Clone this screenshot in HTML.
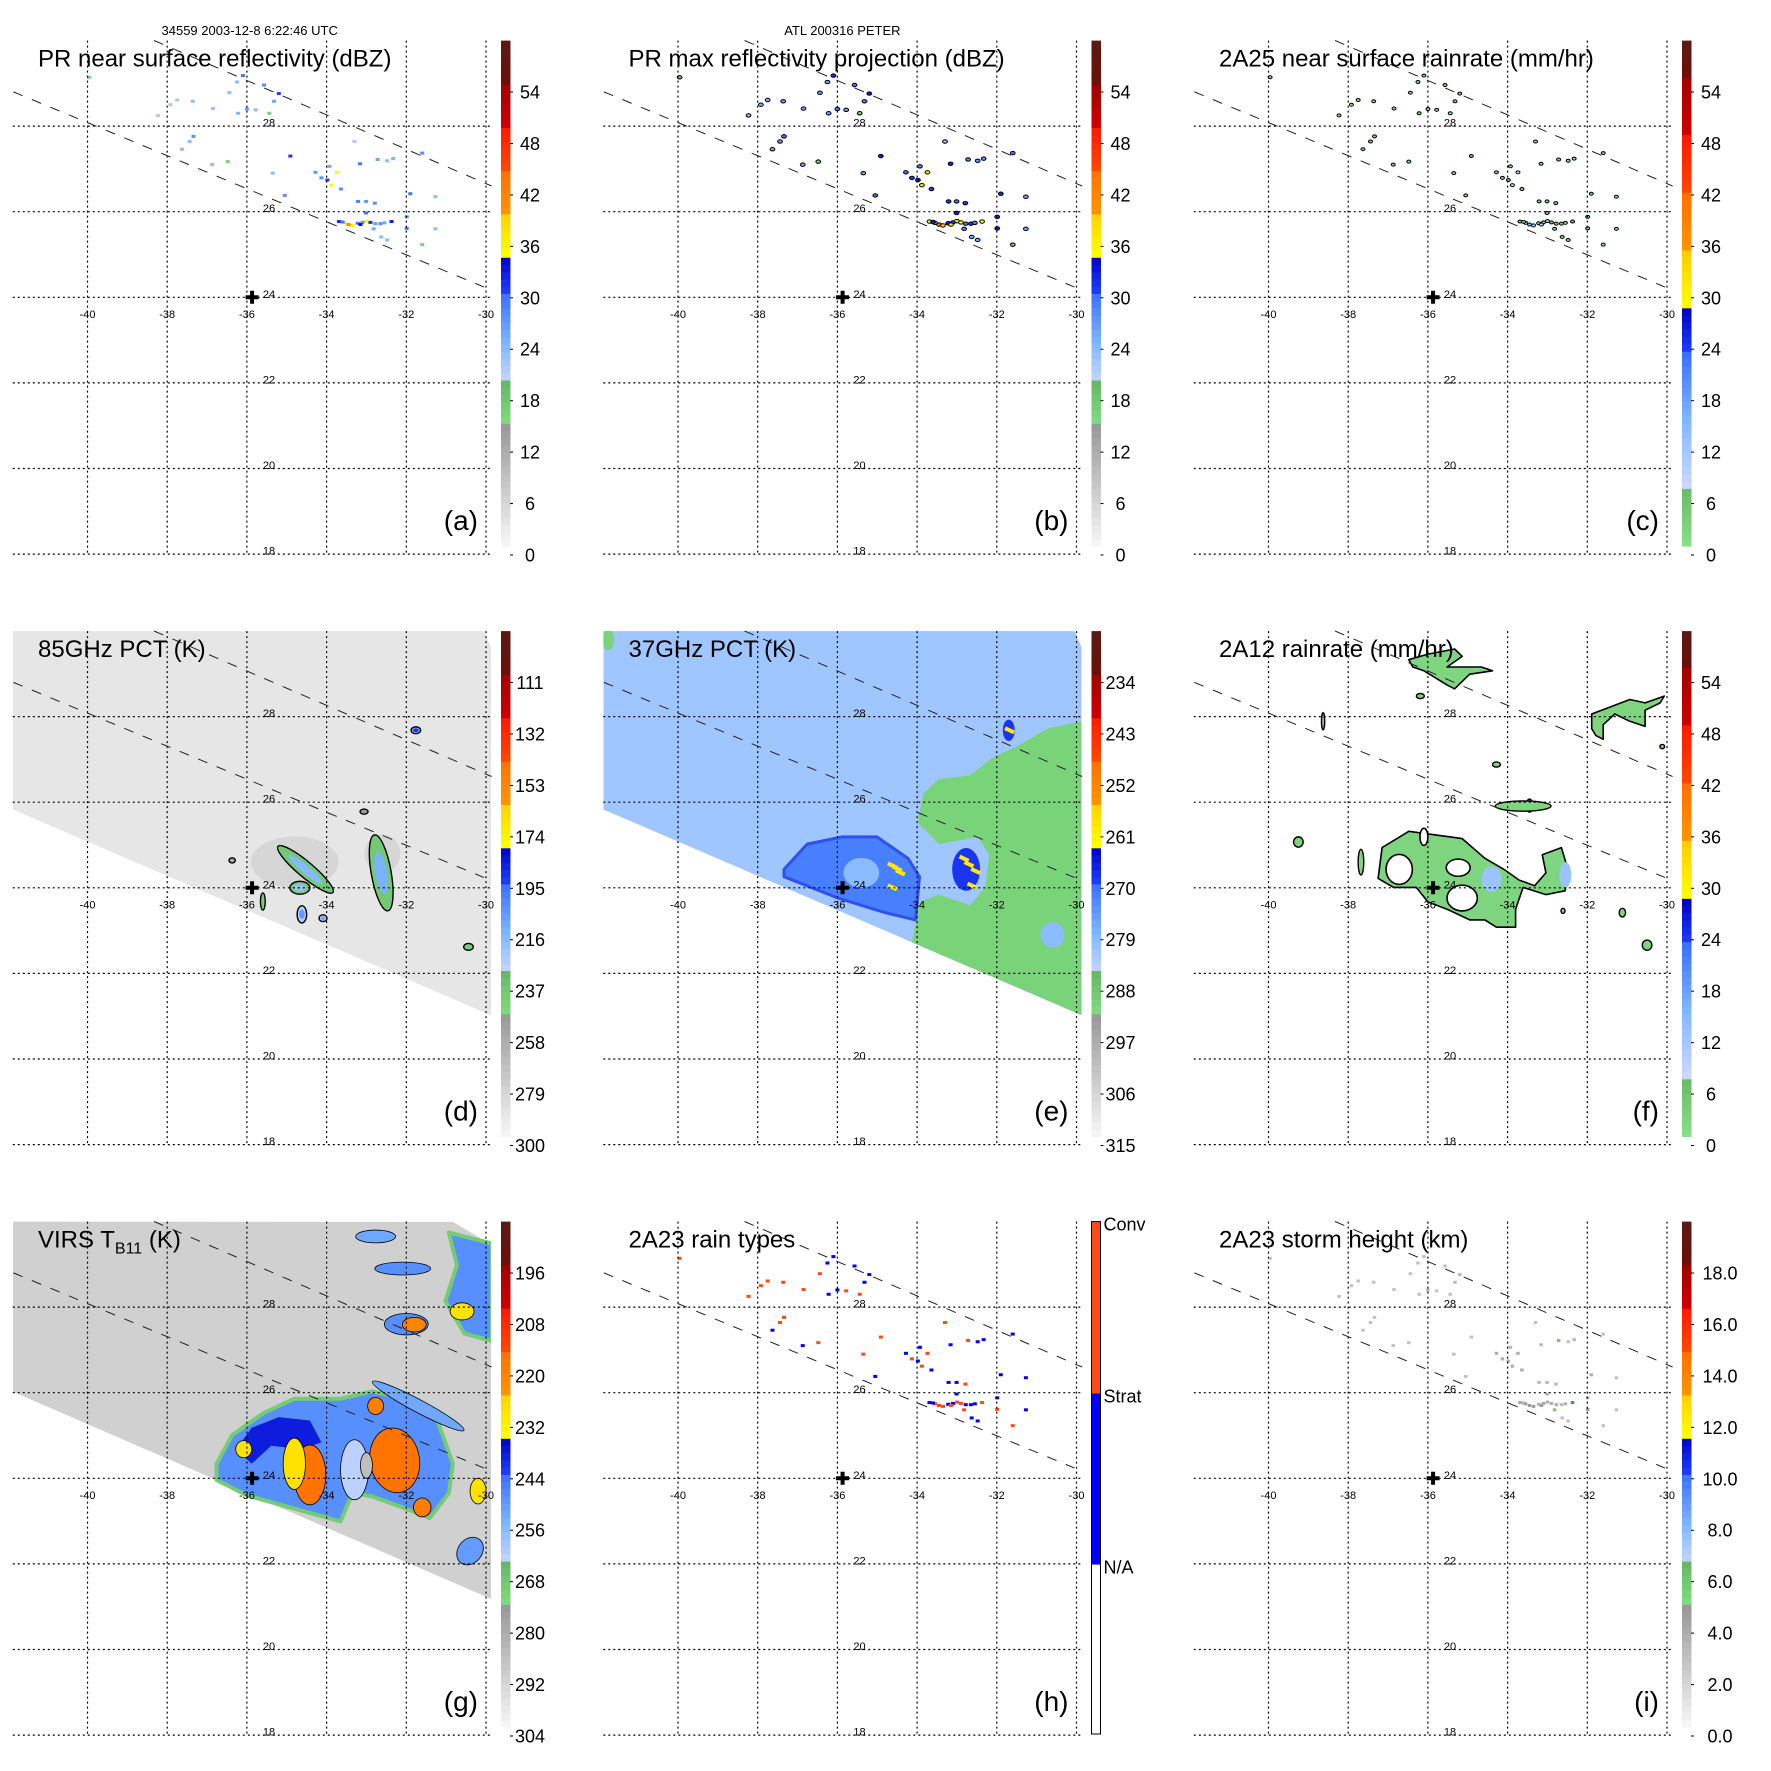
<!DOCTYPE html>
<html><head><meta charset="utf-8">
<style>html,body{margin:0;padding:0;background:#fff}svg{display:block;font-family:"Liberation Sans",Arial,sans-serif}</style>
</head><body>
<svg id="fig" width="1771" height="1771" viewBox="0 0 1771 1771" xmlns="http://www.w3.org/2000/svg">
<rect width="1771" height="1771" fill="#fff"/>
<text x="249.7" y="35" font-size="13" text-anchor="middle">34559 2003-12-8 6:22:46 UTC</text>
<text x="842.4" y="35" font-size="13" text-anchor="middle">ATL 200316 PETER</text>
</svg>
<script>
const NS='http://www.w3.org/2000/svg';
// ---------- data ----------
const lonTicks=[-40,-38,-36,-34,-32,-30];
const latTicks=[28,26,24,22,20,18];
const swathEdgeLon=[[-41.86,-30.05],[-38.33,-29.86]];
const swathEdgeLat=[[28.8,24.24],[30.0,26.6]];
const centerLon=-35.87, centerLat=24.0;
// PR cells
const prLon=[-39.96,-38.23,-37.92,-37.75,-37.36,-36.85,-36.44,-36.25,-36.10,-36.22,-36.00,-35.78,-35.57,-35.32,-35.20,-35.44,-37.34,-37.44,-37.63,-36.87,-36.48,-34.91,-35.35,-35.05,-34.28,-34.13,-33.98,-33.93,-33.74,-33.88,-33.64,-33.30,-33.16,-32.72,-32.48,-32.33,-31.90,-31.27,-31.60,-33.21,-33.01,-32.79,-33.01,-33.69,-33.55,-33.45,-33.35,-33.22,-33.10,-33.00,-32.90,-32.78,-32.65,-32.37,-31.99,-31.99,-32.48,-31.60,-31.27,-32.63,-32.82,-33.60,-33.15,-32.55];
const prLat=[29.14,28.25,28.50,28.61,28.58,28.41,28.78,29.03,29.18,28.30,28.40,28.38,28.96,28.58,28.76,28.30,27.76,27.64,27.46,27.10,27.17,27.30,26.90,26.38,26.92,26.79,26.74,27.06,26.92,26.62,26.53,27.64,27.12,27.22,27.19,27.24,26.42,26.35,27.37,26.24,26.24,26.20,25.97,25.77,25.74,25.70,25.68,25.73,25.75,25.78,25.75,25.72,25.72,25.77,25.61,25.88,25.34,25.23,25.60,25.41,25.60,25.76,25.70,25.74];
const prDbz=[17,22,22,22,24,23,24,24,30,25,27,24,28,26,31,17,28,24,24,24,17,31,24,28,27,28,31,26,36,36,28,22,30,26,24,25,30,24,28,29,27,28,30,32,38,42,36,30,28,36,32,27,28,33,30,28,24,17,24,24,26,30,34,26];
const prMaxDbz=[18,24,25,25,27,26,27,26,32,27,30,27,30,29,33,18,30,27,26,26,18,33,27,30,30,31,33,29,38,38,31,24,32,29,27,28,32,26,30,31,30,31,33,35,40,44,39,33,31,38,35,30,31,35,33,31,26,18,26,26,29,33,37,29];
const prRain=[1,2,2,2,3,2,3,3,5,3,4,3,4,3,6,1,4,3,3,3,1,6,3,4,4,4,6,3,10,10,4,2,5,3,3,3,5,3,4,5,4,4,5,7,12,16,10,5,4,10,7,4,4,8,5,4,3,1,3,3,3,5,9,3];
const prType=[2,2,2,2,2,2,2,1,1,1,1,2,1,1,1,2,2,2,1,1,2,2,2,1,1,2,1,1,2,2,1,2,1,2,1,1,1,1,1,1,1,2,1,1,2,2,2,1,1,2,2,1,1,2,2,1,1,2,1,1,2,1,2,1];
const prHeight=[3,3,3,3,3,3,3,3,3,3,3.5,3,3,3.5,3.5,3,3,3,3,3,3,3,3,3,4,4,4,3.5,4,4,4,3,3.5,6,3,3.5,4,3,3,3.5,3.5,3.5,4,4.5,5,5,5,4,4.5,4,4,4,3.5,10,5,3.5,3,3,3,3,6,4,5,4];
// colorbar ticks (bottom -> top)
const ticksA=[0,6,12,18,24,30,36,42,48,54];
const ticksC=[0,6,12,18,24,30,36,42,48,54];
const ticksD=[300,279,258,237,216,195,174,153,132,111];
const ticksE=[315,306,297,288,279,270,261,252,243,234];
const ticksG=[304,292,280,268,256,244,232,220,208,196];
const ticksI=[0,2,4,6,8,10,12,14,16,18];
const labelsI=['0.0','2.0','4.0','6.0','8.0','10.0','12.0','14.0','16.0','18.0'];
const rainTypeNames=['N/A','Strat','Conv'];
// swath polygons
const swathLon=[-41.87,-30.05,-29.87,-29.87,-41.87];
const swathLat=[30.0,30.0,29.61,21.02,25.83];
const swathGLon=[-41.87,-30.83,-29.87,-29.87,-41.87];
const swathGLat=[30.0,29.99,29.46,21.18,26.02];
// 85 GHz features
const dLon=[-34.8,-32.6,-34.53,-32.63,-34.67,-31.76,-33.06,-34.62,-34.09,-30.44,-35.6,-36.37];
const dLat=[24.6,24.8,24.43,24.35,24.0,27.68,25.78,23.38,23.29,22.62,23.68,24.64];
const dRx=[1.1,0.45,0.9,0.25,0.25,0.12,0.1,0.12,0.1,0.12,0.06,0.08];
const dRy=[0.6,0.45,0.18,0.9,0.15,0.08,0.06,0.2,0.08,0.08,0.2,0.06];
const dRot=[0,0,-40,10,0,0,0,0,0,0,0,0];
const dVal=[279,279,238,238,240,215,250,225,225,240,240,255];
const dInner=[0,0,215,212,218,190,0,205,210,0,0,0];
// 37 GHz features
const eGreenLon=[-29.86,-30.73,-31.51,-32.09,-32.67,-33.45,-33.84,-33.99,-33.45,-32.48,-32.19,-32.29,-32.67,-33.45,-33.94,-34.13,-29.86];
const eGreenLat=[27.89,27.72,27.30,27.05,26.63,26.54,26.21,25.53,25.02,25.19,24.77,24.01,23.59,23.84,23.67,22.73,21.02];
const eDarkLon=[-37.34,-36.76,-35.88,-35.01,-34.23,-33.94,-34.04,-34.81,-35.98,-37.34];
const eDarkLat=[24.43,25.02,25.19,25.19,24.69,24.26,23.25,23.42,23.76,24.26];
const eSpotLon=[-35.4,-32.77,-31.7,-41.75,-30.6];
const eSpotLat=[24.35,24.43,27.68,29.8,22.9];
const eSpotRx=[0.45,0.35,0.15,0.15,0.3];
const eSpotRy=[0.35,0.5,0.25,0.25,0.3];
const eSpotVal=[279,268,268,290,279];
const eYelLon=[-34.62,-34.5,-34.42,-34.62,-32.82,-32.7,-32.53,-32.62,-31.68];
const eYelLat=[24.52,24.45,24.36,24.01,24.68,24.55,24.39,24.05,27.68];
const eYelVal=[259,259,259,259,259,259,259,259,259];
// 2A12 rain
const fMainLon=[-37.25,-37.15,-36.48,-35.14,-34.57,-34.09,-33.71,-33.32,-33.04,-33.13,-32.65,-32.46,-32.56,-33.04,-33.61,-33.80,-33.80,-34.28,-34.57,-34.95,-35.52,-36.0,-36.29,-36.86];
const fMainLat=[24.22,24.94,25.32,25.15,24.69,24.43,24.18,24.05,24.35,24.77,24.94,24.35,23.93,23.84,24.01,23.50,23.08,23.08,23.25,23.25,23.50,23.67,24.01,24.01];
const fTopLon=[-36.48,-36.0,-35.33,-35.14,-35.52,-34.66,-34.38,-34.95,-35.33,-35.52,-36.1,-36.38];
const fTopLat=[29.33,29.46,29.58,29.41,29.16,29.16,29.07,28.99,28.65,28.74,29.07,29.16];
const fRightLon=[-31.89,-30.93,-30.55,-30.07,-30.17,-30.55,-30.55,-30.93,-31.31,-31.60,-31.60,-31.79,-31.89];
const fRightLat=[28.06,28.40,28.32,28.48,28.32,28.15,27.77,27.89,28.06,27.81,27.47,27.56,27.72];
const fHoleLon=[-36.72,-35.24,-35.14,-36.1,-33.45];
const fHoleLat=[24.43,24.47,23.76,25.19,25.92];
const fHoleRx=[0.33,0.3,0.38,0.1,0.08];
const fHoleRy=[0.35,0.2,0.3,0.2,0.15];
const fBlobLon=[-33.61,-39.25,-37.68,-30.5,-31.12,-30.12,-36.19,-34.28,-38.63,-32.61,-34.4,-32.55];
const fBlobLat=[25.91,25.07,24.6,22.66,23.42,27.3,28.48,26.88,27.89,23.46,24.2,24.3];
const fBlobRx=[0.7,0.12,0.07,0.12,0.08,0.06,0.1,0.1,0.04,0.05,0.25,0.15];
const fBlobRy=[0.12,0.12,0.3,0.12,0.1,0.05,0.06,0.06,0.2,0.06,0.3,0.3];
const fBlobVal=[3,3,3,3,3,3,3,3,3,3,13,13];
const fBlobEdge=[1,1,1,1,1,1,1,1,1,1,0,0];
// VIRS
const gBlueLon=[-36.76,-36.37,-35.59,-34.81,-33.65,-32.87,-31.90,-31.22,-30.83,-30.93,-31.41,-32.09,-32.87,-33.35,-33.65,-36.0,-36.76];
const gBlueLat=[24.34,25.01,25.52,25.86,25.86,26.03,25.86,25.35,24.34,23.66,23.07,23.32,23.58,23.66,22.99,23.6,23.96];
const gDarkLon=[-36.27,-35.88,-35.20,-34.42,-34.13,-34.61,-35.39,-35.88];
const gDarkLat=[24.68,25.18,25.43,25.35,24.84,24.68,24.76,24.34];
const gTRLon=[-30.93,-29.86,-29.86,-30.54,-31.02,-30.73];
const gTRLat=[29.74,29.49,27.21,27.38,28.14,28.98];
const gBlobLon=[-33.3,-32.0,-32.09,-32.77,-31.7,-30.4,-32.29,-34.42,-34.81,-36.08,-32.77,-31.6,-31.8,-30.6,-30.2,-33.0];
const gBlobLat=[24.2,27.6,28.9,29.65,25.69,22.3,24.42,24.08,24.34,24.68,25.69,23.32,27.59,27.9,23.7,24.3];
const gBlobRx=[0.35,0.55,0.7,0.5,1.3,0.3,0.62,0.4,0.28,0.2,0.2,0.22,0.3,0.3,0.2,0.15];
const gBlobRy=[0.7,0.25,0.15,0.15,0.15,0.35,0.76,0.7,0.6,0.2,0.2,0.22,0.17,0.2,0.3,0.3];
const gBlobRot=[0,0,0,0,-28,-40,10,0,0,0,0,0,0,0,0,0];
const gBlobVal=[262,248,248,252,252,250,215,215,228,228,218,218,220,228,228,285];
// ---------- geometry ----------
const OFF=[0,590.5,1181];
function px(lon){return 87.5+(lon+40)*39.85;}
function py(lat){return 297.3-(lat-24)*42.8;}
const CM_A=[[0,.237,'#f8f8f8','#999999'],[.237,.322,'#82e082','#68b868'],[.322,.40,'#ccd8ff','#80b8ff'],[.40,.50,'#80b8ff','#3a70ff'],[.50,.575,'#2040ff','#0000c4'],[.575,.66,'#ffff00','#ffd000'],[.66,.745,'#ff9400','#ff7000'],[.745,.83,'#ff4800','#ff1800'],[.83,.915,'#d00000','#a00000'],[.915,1.001,'#6c1008','#5a1a14']];
const CM_C=[[0,.119,'#88e088','#68b868'],[.119,.25,'#ccd8ff','#80b8ff'],[.25,.38,'#80b8ff','#3a70ff'],[.38,.472,'#2040ff','#0000c4'],[.472,.592,'#ffff00','#ffc800'],[.592,.696,'#ff9400','#ff7000'],[.696,.814,'#ff4800','#ff1800'],[.814,.933,'#d00000','#a00000'],[.933,1.001,'#6c1008','#5a1a14']];
function hx(c){return [parseInt(c.substr(1,2),16),parseInt(c.substr(3,2),16),parseInt(c.substr(5,2),16)];}
function cmap(cm,f){f=Math.max(0,Math.min(1,f));for(const s of cm){if(f>=s[0]&&f<s[1]){const t=(f-s[0])/(s[1]-s[0]);const a=hx(s[2]),b=hx(s[3]);return 'rgb('+a.map((v,i)=>Math.round(v+(b[i]-v)*t)).join(',')+')';}}return cm[cm.length-1][3];}
function frac(ticks,v){const idx=(v-ticks[0])/(ticks[1]-ticks[0]);const y=555-idx*51.44;return (546-y)/505.4;}
function col(cm,ticks,v){return cmap(cm,frac(ticks,v));}
function mk(tag,attrs,parent){const e=document.createElementNS(NS,tag);for(const k in attrs)e.setAttribute(k,attrs[k]);parent.appendChild(e);return e;}
function pts(lons,lats){return lons.map((l,i)=>px(l).toFixed(1)+','+py(lats[i]).toFixed(1)).join(' ');}
const svg=document.getElementById('fig');
const defs=mk('defs',{},svg);

function panel(ix,iy,key,title,letter,ticks,cm,labels,labelX){
  const g=mk('g',{transform:'translate('+OFF[ix]+','+OFF[iy]+')'},svg);
  
  
  const cp=mk('clipPath',{id:'clip-'+key},defs);
  mk('rect',{x:12.8,y:40.6,width:478.2,height:513.4},cp);
  const data=mk('g',{'clip-path':'url(#clip-'+key+')'},g);
  
  
  const over=mk('g',{},g);
  
  
  lonTicks.forEach(l=>{const ln=mk('line',{x1:px(l),x2:px(l),y1:40.6,y2:554,stroke:'#000','stroke-width':1.2,'stroke-dasharray':'2 3'},over);
    
    
    const t=mk('text',{x:px(l),y:318,'font-size':11,'text-anchor':'middle'},over);t.textContent=l;
    
    });
  latTicks.forEach(l=>{const ln=mk('line',{x1:12.8,x2:491,y1:py(l),y2:py(l),stroke:'#000','stroke-width':1.2,'stroke-dasharray':'2 3'},over);
    
    
    const t=mk('text',{x:px(-35.6),y:py(l)+0.5,'font-size':11},over);t.textContent=l;
    
    });
  for(let k=0;k<2;k++){const ln=mk('line',{x1:px(swathEdgeLon[k][0]),y1:py(swathEdgeLat[k][0]),x2:px(swathEdgeLon[k][1]),y2:py(swathEdgeLat[k][1]),stroke:'#222','stroke-width':1,'stroke-dasharray':'10 10'},over);
    
    }
  const cx=px(centerLon),cy=py(centerLat);
  const cross=mk('path',{d:'M'+(cx-6.5)+' '+cy+'H'+(cx+6.5)+'M'+cx+' '+(cy-6.5)+'V'+(cy+6.5),stroke:'#000','stroke-width':4},over);
  
  
  const tt=mk('text',{x:38,y:66.5,'font-size':24},over);
  
  
  if(typeof title==='string')tt.textContent=title;else title(tt);
  const lt=mk('text',{x:478,y:530,'font-size':28,'text-anchor':'end'},over);lt.textContent='('+letter+')';
  
  
  const cb=mk('g',{},g);
  
  
  if(cm){
    const n=70;
    for(let i=0;i<n;i++){const f0=i/n;const r=mk('rect',{x:501,y:546-(i+1)*505.4/n,width:9.5,height:505.4/n+0.6,fill:cmap(cm,f0+0.5/n)},cb);
      
      }
    labels.forEach((lab,k)=>{const y=555-k*51.44;const t=mk('text',{x:labelX,y:y+6.5,'font-size':18,'text-anchor':'middle'},cb);t.textContent=lab;
      
      
      const tk=mk('line',{x1:510,x2:513,y1:y,y2:y,stroke:'#000','stroke-width':1},cb);
      
      });
  }
  return data;
}
function cells(g,vals,colorFn,w,h,stroke,name){
  prLon.forEach((l,i)=>{const x=px(l),y=py(prLat[i]);let e;
    if(stroke)e=mk('ellipse',{cx:x,cy:y,rx:w,ry:h,fill:colorFn(vals[i]),stroke:'#000','stroke-width':1},g);
    else e=mk('rect',{x:x-w/2,y:y-h/2,width:w,height:h,fill:colorFn(vals[i])},g);
    
    });
}
function ell(g,lon,lat,rx,ry,rot,fill,stroke,sw,name){
  const x=px(lon),y=py(lat);
  const e=mk('ellipse',{cx:x,cy:y,rx:rx*39.85,ry:ry*42.8,fill:fill,transform:'rotate('+(-rot)+' '+x+' '+y+')'},g);
  if(stroke){e.setAttribute('stroke',stroke);e.setAttribute('stroke-width',sw);}
  
  
  return e;
}
function poly(g,lons,lats,fill,stroke,sw,name){
  const p=mk('polygon',{points:pts(lons,lats),fill:fill},g);
  if(stroke){p.setAttribute('stroke',stroke);p.setAttribute('stroke-width',sw);p.setAttribute('stroke-linejoin','round');}
  
  
  return p;
}
const L10=t=>t.map(String);
// (a)
let d=panel(0,0,'a','PR near surface reflectivity (dBZ)','a',ticksA,CM_A,L10(ticksA),530);
cells(d,prDbz,v=>col(CM_A,ticksA,v),4,3,false,'reflectivity-cell');
// (b)
d=panel(1,0,'b','PR max reflectivity projection (dBZ)','b',ticksA,CM_A,L10(ticksA),530);
cells(d,prMaxDbz,v=>col(CM_A,ticksA,v),2.4,1.7,true,'max-reflectivity-cell');
// (c)
d=panel(2,0,'c','2A25 near surface rainrate (mm/hr)','c',ticksC,CM_C,L10(ticksC),530);
cells(d,prRain,v=>col(CM_C,ticksC,v),2,1.5,true,'rainrate-cell');
// (d)
d=panel(0,1,'d','85GHz PCT (K)','d',ticksD,CM_A,L10(ticksD),530);
poly(d,swathLon,swathLat,col(CM_A,ticksD,287),null,0,'tmi-swath');
dLon.forEach((l,i)=>{
  ell(d,l,dLat[i],dRx[i],dRy[i],dRot[i],col(CM_A,ticksD,dVal[i]),i>=2?'#000':null,1.4,'pct85-feature');
  if(dInner[i]>0)ell(d,l,dLat[i],dRx[i]*0.6,dRy[i]*0.55,dRot[i],col(CM_A,ticksD,dInner[i]),null,0,'pct85-core');});
// (e)
d=panel(1,1,'e','37GHz PCT (K)','e',ticksE,CM_A,L10(ticksE),530);
poly(d,swathLon,swathLat,col(CM_A,ticksE,281),null,0,'tmi-swath');
poly(d,eGreenLon,eGreenLat,col(CM_A,ticksE,290),null,0,'warm-region');
poly(d,eDarkLon,eDarkLat,col(CM_A,ticksE,271),'#3050f0',3,'cold-region');
eSpotLon.forEach((l,i)=>ell(d,l,eSpotLat[i],eSpotRx[i],eSpotRy[i],0,col(CM_A,ticksE,eSpotVal[i]),null,0,'pct37-spot'));
eYelLon.forEach((l,i)=>{const r=mk('rect',{x:px(l)-5,y:py(eYelLat[i])-2,width:10,height:4,fill:col(CM_A,ticksE,eYelVal[i]),transform:'rotate(25 '+px(l)+' '+py(eYelLat[i])+')'},d);
  
  });
// (f)
d=panel(2,1,'f','2A12 rainrate (mm/hr)','f',ticksC,CM_C,L10(ticksC),530);
const fg=col(CM_C,ticksC,3);
poly(d,fMainLon,fMainLat,fg,'#000',1.6,'rain-area-main');
poly(d,fTopLon,fTopLat,fg,'#000',1.6,'rain-area-north');
poly(d,fRightLon,fRightLat,fg,'#000',1.6,'rain-area-northeast');
fHoleLon.forEach((l,i)=>ell(d,l,fHoleLat[i],fHoleRx[i],fHoleRy[i],0,'#fff','#000',1.6,'rain-gap'));
fBlobLon.forEach((l,i)=>ell(d,l,fBlobLat[i],fBlobRx[i],fBlobRy[i],0,col(CM_C,ticksC,fBlobVal[i]),fBlobEdge[i]?'#000':null,1.4,'rain-cell'));
// (g)
d=panel(0,2,'g',t=>{t.textContent='VIRS T';const s=mk('tspan',{'font-size':16,dy:6},t);s.textContent='B11';const s2=mk('tspan',{dy:-6},t);s2.textContent=' (K)';},'g',ticksG,CM_A,L10(ticksG),530);
poly(d,swathGLon,swathGLat,col(CM_A,ticksG,290),null,0,'virs-swath');
poly(d,gBlueLon,gBlueLat,col(CM_A,ticksG,248),col(CM_A,ticksG,269),4,'cold-cloud-area');
poly(d,gTRLon,gTRLat,col(CM_A,ticksG,248),col(CM_A,ticksG,269),4,'cold-cloud-northeast');
poly(d,gDarkLon,gDarkLat,col(CM_A,ticksG,238),null,0,'very-cold-cloud');
gBlobLon.forEach((l,i)=>ell(d,l,gBlobLat[i],gBlobRx[i],gBlobRy[i],gBlobRot[i],col(CM_A,ticksG,gBlobVal[i]),'#000',0.8,'cloud-top-feature'));
// (h)
d=panel(1,2,'h','2A23 rain types','h',null,null,null,0);
cells(d,prType,v=>v===2?'#ff4a10':'#0000ff',4,3,false,'rain-type-cell');
(function(){const g=svg.lastChild;const cb=mk('g',{},g);
  
  
  const bands=[[40.6,212.4,'#ff4a10'],[212.4,383.7,'#0000ff'],[383.7,553,'#ffffff']];
  bands.forEach(b=>{const r=mk('rect',{x:501,y:b[0],width:9,height:b[1]-b[0],fill:b[2]},cb);
    
    });
  const fr=mk('rect',{x:501,y:40.6,width:9,height:512.4,fill:'none',stroke:'#000','stroke-width':1},cb);
  
  
  const ys=[383.7,212.4,40.6];
  [0,1,2].forEach(k=>{const t=mk('text',{x:513,y:ys[k]+9,'font-size':18},cb);t.textContent=rainTypeNames[k];
    
    });})();
// (i)
d=panel(2,2,'i','2A23 storm height (km)','i',ticksI,CM_A,labelsI,539);
cells(d,prHeight,v=>col(CM_A,ticksI,v),3.5,3,false,'storm-height-cell');
</script>
</body></html>
